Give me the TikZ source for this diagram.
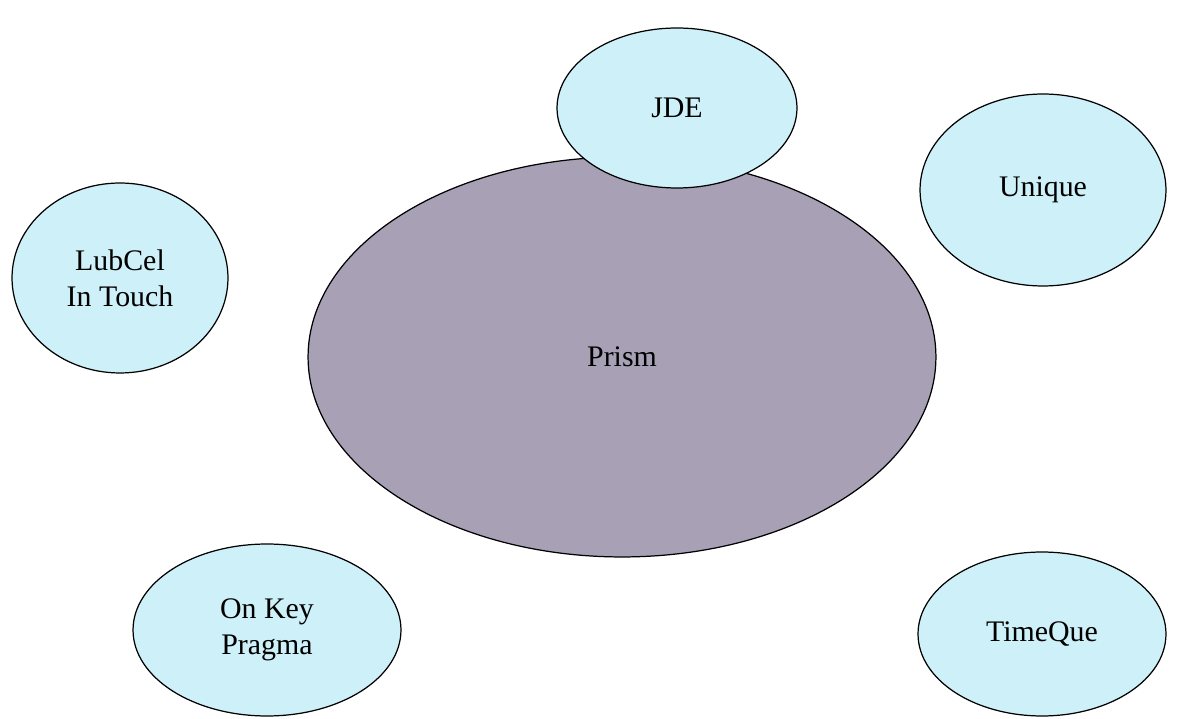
\documentclass[tikz,border=0pt]{standalone}
\usepackage{fontspec}
\setmainfont{Liberation Serif}
\usetikzlibrary{shapes.geometric}
\definecolor{bubblefill}{RGB}{206,240,248}
\definecolor{prismfill}{RGB}{168,160,180}
\tikzset{
	bubble/.style={ellipse,draw=black,line width=.7pt,fill=bubblefill,inner sep=0pt,align=center,
		font=\fontsize{17}{20.5}\selectfont},
	core/.style={bubble,fill=prismfill}
}

\begin{document}
\begin{tikzpicture}[x=0.02cm,y=-0.02cm]
			\useasboundingbox (0,0) rectangle (1178,719);
			% \draw[help lines,step=100] (0,0) grid (1178,719);
			\coordinate (c) at (622,357);
			\coordinate (n) at (677,108);
			\coordinate (ne) at (1043,190);
			\coordinate (w) at (120,278);
			\coordinate (sw) at (267,630);
			\coordinate (se) at (1042,634);
			% the big one first, so that JDE lies on top of it
			\node[core,minimum width=12.56cm,minimum height=8cm] (prism) at (c) {Prism};
			\node[bubble,minimum width=4.8cm,minimum height=3.2cm] (jde) at (n) {JDE};
			\node[bubble,minimum width=4.92cm,minimum height=3.84cm] (unique) at (ne) {Unique};
			\node[bubble,minimum width=4.32cm,minimum height=3.8cm] (lubcel) at (w) {LubCel\\In Touch};
			\node[bubble,minimum width=5.36cm,minimum height=3.44cm] (onkey) at (sw) {On Key\\Pragma};
			\node[bubble,minimum width=4.96cm,minimum height=3.28cm] (timeque) at (se) {TimeQue};
		\end{tikzpicture}
\end{document}
